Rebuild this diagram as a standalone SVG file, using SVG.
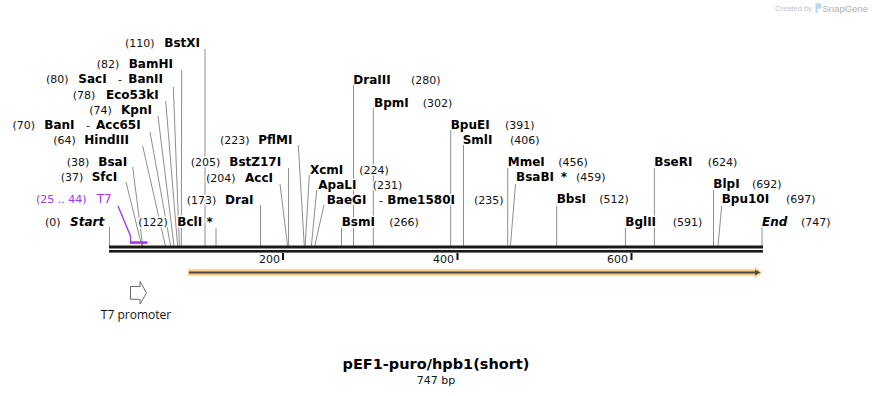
<svg xmlns="http://www.w3.org/2000/svg" width="872" height="396" viewBox="0 0 872 396">
<style>
text{font-family:"DejaVu Sans","Verdana",sans-serif;}
.n{font-size:11px;fill:#111;}
.b{font-size:12px;font-weight:bold;fill:#000;}
.i{font-style:italic;}
.h{stroke:#fff;stroke-width:3px;stroke-linejoin:round;paint-order:stroke;}
.p{fill:#a033f0;}
.cn line,.cn polyline{stroke:#8e8e8e;stroke-width:1;fill:none;}
.tick{stroke:#111;stroke-width:2;}
.wm{font-family:"Liberation Sans",Arial,sans-serif;}
</style>
<rect width="872" height="396" fill="#fff"/>

<g id="watermark">
<text class="wm" x="775" y="10.5" style="font-size:7.6px;fill:#c4c4c4">Created by</text>
<path d="M815.5,3 h3 a3,3 0 0 1 0,6 h-1 v4 h-2 z" fill="#b8dcf2"/>
<text class="wm" x="822.5" y="11.5" style="font-size:9.5px;fill:#b0b0b0">SnapGene</text>
</g>

<g id="connectors" class="cn">
<line x1="109.5" y1="227" x2="109.5" y2="246"/>
<line x1="126" y1="182" x2="141.8" y2="246"/>
<line x1="132.7" y1="167" x2="142.7" y2="246"/>
<line x1="142.7" y1="146" x2="165.4" y2="246"/>
<line x1="150" y1="132" x2="170.6" y2="246"/>
<line x1="158" y1="116" x2="174" y2="246"/>
<line x1="165.7" y1="101" x2="177.6" y2="246"/>
<line x1="173.3" y1="87" x2="179.4" y2="246"/>
<line x1="181.7" y1="70" x2="181.3" y2="246"/>
<line x1="205" y1="49" x2="205" y2="246"/>
<line x1="216" y1="228" x2="216" y2="246"/>
<line x1="260.5" y1="205" x2="260.5" y2="246"/>
<line x1="280" y1="184" x2="287.6" y2="246"/>
<line x1="288.6" y1="168" x2="288.6" y2="246"/>
<line x1="298.3" y1="145" x2="304.3" y2="246"/>
<line x1="309.3" y1="175" x2="305.2" y2="246"/>
<line x1="316.7" y1="190" x2="311.4" y2="246"/>
<line x1="324" y1="205" x2="314.8" y2="246"/>
<line x1="341.5" y1="228" x2="341.5" y2="246"/>
<line x1="353.5" y1="85" x2="353.5" y2="246"/>
<line x1="373.3" y1="108" x2="373.3" y2="246"/>
<line x1="450.7" y1="130" x2="450.7" y2="246"/>
<line x1="463.5" y1="145" x2="463.5" y2="246"/>
<line x1="507.7" y1="168" x2="507.7" y2="246"/>
<line x1="515.5" y1="184" x2="510.4" y2="246"/>
<line x1="556.7" y1="206" x2="556.7" y2="246"/>
<line x1="625.4" y1="228" x2="625.4" y2="246"/>
<line x1="654.4" y1="168" x2="654.4" y2="246"/>
<line x1="713.5" y1="190" x2="713.5" y2="246"/>
<line x1="721.7" y1="206" x2="718" y2="246"/>
<line x1="762" y1="228" x2="762" y2="246"/>
<polyline points="118,206 130.5,236 130.5,242" style="stroke:#a033f0;stroke-width:1.3"/>
</g>

<g id="backbone">
<rect x="109" y="245.5" width="654" height="3" fill="#1a1a1a"/>
<rect x="109" y="250" width="654" height="2.6" fill="#1a1a1a"/>
<line class="tick" x1="283" y1="253" x2="283" y2="260"/>
<line class="tick" x1="457.5" y1="253" x2="457.5" y2="260"/>
<line class="tick" x1="631.5" y1="253" x2="631.5" y2="260"/>
<text class="n" x="280" y="263" text-anchor="end">200</text>
<text class="n" x="454" y="263" text-anchor="end">400</text>
<text class="n" x="628" y="263" text-anchor="end">600</text>
</g>

<g id="feature-T7-primer">
<rect x="130" y="241.3" width="17.5" height="2.5" fill="#a033f0"/>
<text class="n p h" x="36" y="202.5">(25 .. 44)</text>
<text class="n p h" x="96.7" y="202.5" style="font-size:12px">T7</text>
</g>

<g id="feature-orf">
<polygon points="188,269.2 755,269.2 755,266.8 762,272.5 755,278.2 755,275.8 188,275.8" fill="#f8c777" opacity="0.9"/>
<line x1="189" y1="272.5" x2="756" y2="272.5" stroke="#4a4a4a" stroke-width="2"/>
<polygon points="755,269.8 760.5,272.5 755,275.2" fill="#4a4a4a"/>
</g>

<g id="feature-T7-promoter">
<polygon points="130.5,286.5 140,286.5 140,281.5 146.5,292.8 140,304 140,299.3 130.5,299.3" fill="#fff" stroke="#6a6a6a" stroke-width="1"/>
<text class="n" x="136" y="319" text-anchor="middle" style="font-size:12px;font-family:'Open Sans','DejaVu Sans',sans-serif">T7 promoter</text>
</g>

<g id="enz-start"><text class="n h" x="45" y="225.5">(0)</text><text class="b i h" x="70" y="225.5">Start</text></g>
<g id="enz-SfcI"><text class="n h" x="60.7" y="180.5">(37)</text><text class="b h" x="91.7" y="180.5">SfcI</text></g>
<g id="enz-BsaI"><text class="n h" x="66.7" y="165.5">(38)</text><text class="b h" x="98.3" y="165.5">BsaI</text></g>
<g id="enz-HindIII"><text class="n h" x="53.3" y="143.5">(64)</text><text class="b h" x="84.3" y="143.5">HindIII</text></g>
<g id="enz-BanI"><text class="n h" x="12.5" y="128.5">(70)</text><text class="b h" x="44.3" y="128.5">BanI</text><text class="n h" x="86" y="128.5">-</text><text class="b h" x="96" y="128.5">Acc65I</text></g>
<g id="enz-KpnI"><text class="n h" x="89.3" y="113.5">(74)</text><text class="b h" x="121" y="113.5">KpnI</text></g>
<g id="enz-Eco53kI"><text class="n h" x="72.7" y="98.5">(78)</text><text class="b h" x="106" y="98.5">Eco53kI</text></g>
<g id="enz-SacI"><text class="n h" x="46" y="82.5">(80)</text><text class="b h" x="78.3" y="82.5">SacI</text><text class="n h" x="118" y="82.5">-</text><text class="b h" x="128.3" y="82.5">BanII</text></g>
<g id="enz-BamHI"><text class="n h" x="96.7" y="67.5">(82)</text><text class="b h" x="128.7" y="67.5">BamHI</text></g>
<g id="enz-BstXI"><text class="n h" x="125" y="46.5">(110)</text><text class="b h" x="164.3" y="46.5">BstXI</text></g>
<g id="enz-BclI"><text class="n h" x="138.3" y="225.5">(122)</text><text class="b h" x="177.3" y="225.5">BclI</text><text class="b h" x="206.5" y="225.5">*</text></g>
<g id="enz-DraI"><text class="n h" x="186.7" y="203.5">(173)</text><text class="b h" x="225" y="203.5">DraI</text></g>
<g id="enz-AccI"><text class="n h" x="206" y="181.5">(204)</text><text class="b h" x="245" y="181.5">AccI</text></g>
<g id="enz-BstZ17I"><text class="n h" x="190.7" y="166">(205)</text><text class="b h" x="229.3" y="166">BstZ17I</text></g>
<g id="enz-PflMI"><text class="n h" x="220" y="143.5">(223)</text><text class="b h" x="258.3" y="143.5">PflMI</text></g>
<g id="enz-XcmI"><text class="b h" x="310" y="173.5">XcmI</text><text class="n h" x="359.3" y="173.5">(224)</text></g>
<g id="enz-ApaLI"><text class="b h" x="318.3" y="188.5">ApaLI</text><text class="n h" x="372.7" y="188.5">(231)</text></g>
<g id="enz-BaeGI"><text class="b h" x="326.7" y="203.5">BaeGI</text><text class="n h" x="379" y="203.5">-</text><text class="b h" x="387.3" y="203.5">Bme1580I</text><text class="n h" x="474" y="203.5">(235)</text></g>
<g id="enz-BsmI"><text class="b h" x="341.7" y="226">BsmI</text><text class="n h" x="389.3" y="226">(266)</text></g>
<g id="enz-DraIII"><text class="b h" x="353.3" y="83.5">DraIII</text><text class="n h" x="411" y="83.5">(280)</text></g>
<g id="enz-BpmI"><text class="b h" x="374" y="106.5">BpmI</text><text class="n h" x="422.7" y="106.5">(302)</text></g>
<g id="enz-BpuEI"><text class="b h" x="450.7" y="128.5">BpuEI</text><text class="n h" x="505" y="128.5">(391)</text></g>
<g id="enz-SmlI"><text class="b h" x="462.7" y="143.5">SmlI</text><text class="n h" x="510" y="143.5">(406)</text></g>
<g id="enz-MmeI"><text class="b h" x="507.7" y="165.5">MmeI</text><text class="n h" x="558.3" y="165.5">(456)</text></g>
<g id="enz-BsaBI"><text class="b h" x="516" y="180.5">BsaBI</text><text class="b h" x="560.7" y="180.5">*</text><text class="n h" x="576" y="180.5">(459)</text></g>
<g id="enz-BbsI"><text class="b h" x="556.7" y="203">BbsI</text><text class="n h" x="599.3" y="203">(512)</text></g>
<g id="enz-BglII"><text class="b h" x="625.3" y="225.5">BglII</text><text class="n h" x="672.7" y="225.5">(591)</text></g>
<g id="enz-BseRI"><text class="b h" x="654.3" y="165.5">BseRI</text><text class="n h" x="707.7" y="165.5">(624)</text></g>
<g id="enz-BlpI"><text class="b h" x="713.3" y="187.5">BlpI</text><text class="n h" x="752" y="187.5">(692)</text></g>
<g id="enz-Bpu10I"><text class="b h" x="721.7" y="202.5">Bpu10I</text><text class="n h" x="786" y="202.5">(697)</text></g>
<g id="enz-end"><text class="b i h" x="762" y="225.5">End</text><text class="n h" x="801" y="225.5">(747)</text></g>

<g id="title">
<text x="436" y="369" text-anchor="middle" style="font-size:14.5px;font-weight:bold;fill:#000">pEF1-puro/hpb1(short)</text>
<text x="436" y="383.5" text-anchor="middle" class="n">747 bp</text>
</g>
</svg>
